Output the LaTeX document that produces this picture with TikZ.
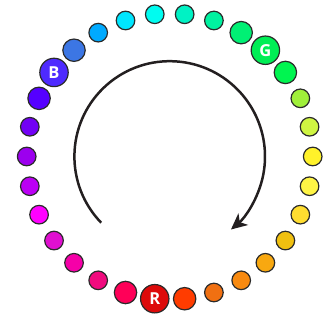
\documentclass[tikz,border=0pt]{standalone}
\usepackage{fontspec}
\setsansfont{Open Sans}
\usetikzlibrary{arrows.meta}
\definecolor{c0}{HTML}{FFF22A}
\definecolor{c1}{HTML}{CFF542}
\definecolor{c2}{HTML}{A0F03A}
\definecolor{c3}{HTML}{00F550}
\definecolor{c4}{HTML}{00EE55}
\definecolor{c5}{HTML}{00F074}
\definecolor{c6}{HTML}{00F2A0}
\definecolor{c7}{HTML}{00F2C4}
\definecolor{c8}{HTML}{00FCF0}
\definecolor{c9}{HTML}{00E6FF}
\definecolor{c10}{HTML}{00AAFF}
\definecolor{c11}{HTML}{3C76E4}
\definecolor{c12}{HTML}{4E2AFF}
\definecolor{c13}{HTML}{5500FF}
\definecolor{c14}{HTML}{7200F5}
\definecolor{c15}{HTML}{9C00EE}
\definecolor{c16}{HTML}{BB00F5}
\definecolor{c17}{HTML}{FF00FF}
\definecolor{c18}{HTML}{E010D0}
\definecolor{c19}{HTML}{F500A8}
\definecolor{c20}{HTML}{F00A7E}
\definecolor{c21}{HTML}{FF0058}
\definecolor{c22}{HTML}{DD0A0A}
\definecolor{c23}{HTML}{FF3C00}
\definecolor{c24}{HTML}{F07012}
\definecolor{c25}{HTML}{F88A10}
\definecolor{c26}{HTML}{F8A810}
\definecolor{c27}{HTML}{F0C010}
\definecolor{c28}{HTML}{FFDD30}
\definecolor{c29}{HTML}{FFF545}
\definecolor{outline}{HTML}{2A2A2A}
\definecolor{arrowcol}{HTML}{231F20}
\tikzset{
  dot/.style={circle, draw=outline, line width=1.2pt, inner sep=0pt,
    text=white, font=\sffamily\bfseries\fontsize{16.5}{16.5}\selectfont},
  small/.style={minimum size=18.6pt},
  medium/.style={minimum size=22.4pt},
  big/.style={minimum size=28.4pt},
  arrowline/.style={draw=arrowcol, line width=2.5pt,
    -{Stealth[length=16pt,width=15pt,inset=4.5pt]}}
}
\begin{document}
\begin{tikzpicture}[x=1pt,y=1pt]
\useasboundingbox (0,0) rectangle (332,336);
\coordinate (c) at (169.7,179.5);
\foreach \k/\sz/\lab in {0/small/,1/small/,2/small/,3/medium/,4/big/G,5/medium/,
  6/small/,7/small/,8/small/,9/small/,10/small/,11/medium/,12/big/B,13/medium/,
  14/small/,15/small/,16/small/,17/small/,18/small/,19/small/,20/small/,
  21/medium/,22/big/R,23/medium/,24/small/,25/small/,26/small/,27/small/,
  28/small/,29/small/}{
  \node[dot, \sz, fill=c\k] (d\k) at ([shift={(\k*12:143)}]c) {\lab};
}
\coordinate (astart) at ([shift={(224:95.3)}]c);
\path[arrowline] (astart) arc[start angle=224, end angle=-50, radius=95.3];
\end{tikzpicture}
\end{document}
